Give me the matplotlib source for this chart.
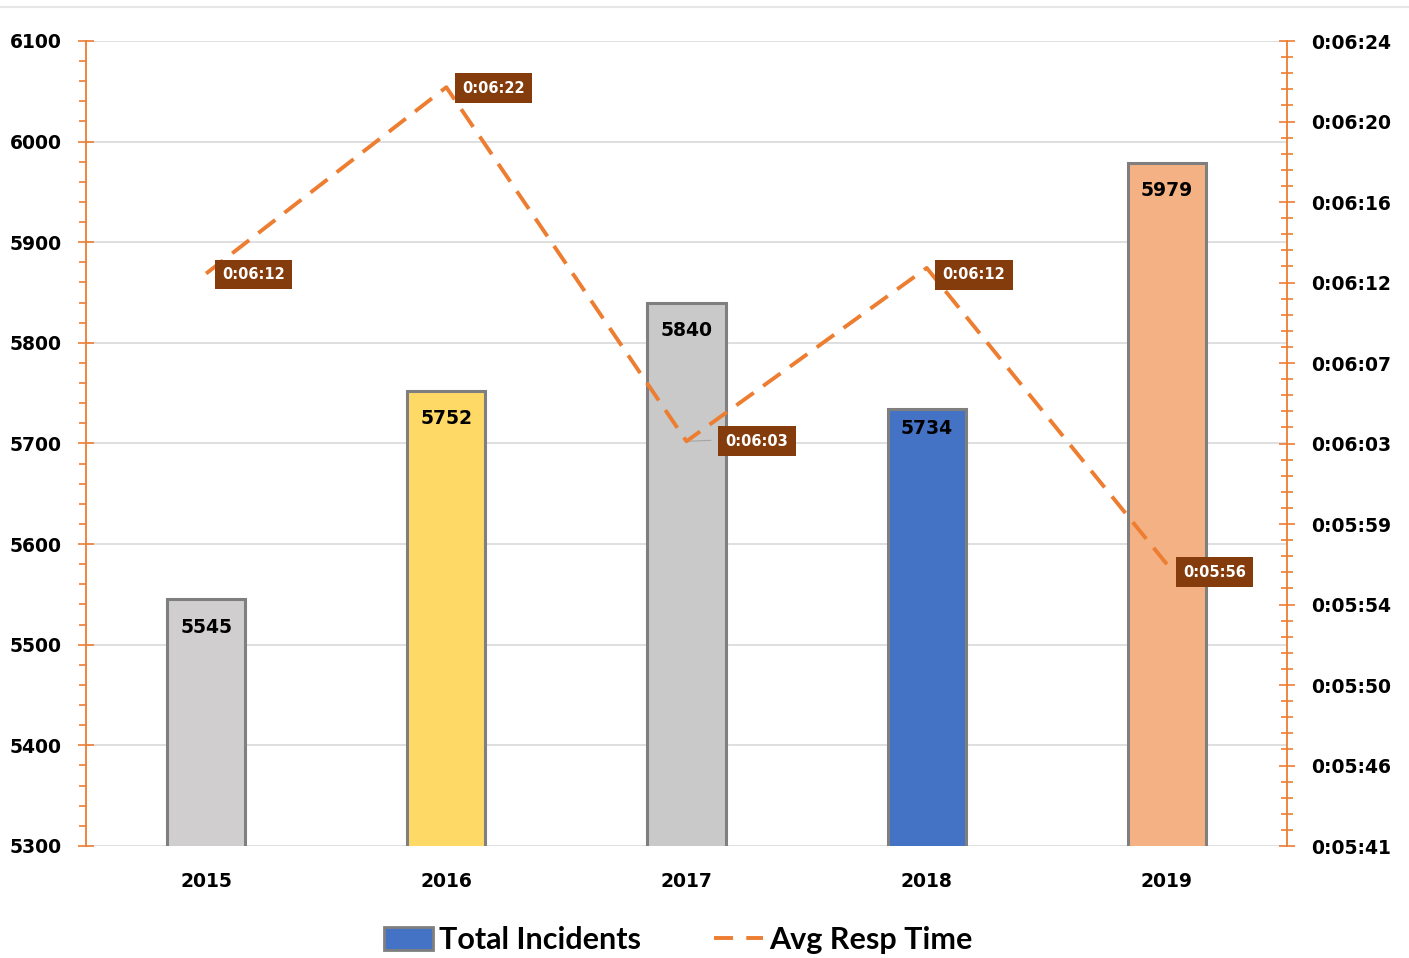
import matplotlib
matplotlib.use("Agg")
import matplotlib.pyplot as plt
from matplotlib.ticker import MultipleLocator, FuncFormatter, FixedLocator
from matplotlib.patches import Patch
from matplotlib.lines import Line2D
import numpy as np

years = ["2015", "2016", "2017", "2018", "2019"]
incidents = [5545, 5752, 5840, 5734, 5979]
bar_colors = ["#d0cece", "#ffd966", "#c9c9c9", "#4472c4", "#f4b183"]
resp_secs = [372.0, 382.0, 363.0, 372.3, 356.4]
resp_labels = ["0:06:12", "0:06:22", "0:06:03", "0:06:12", "0:05:56"]

W, H = 1409, 958
fig = plt.figure(figsize=(W / 100, H / 100), dpi=100)
ax = fig.add_axes([86 / W, 1 - 846 / H, (1287 - 86) / W, (846 - 41) / H])
ax2 = ax.twinx()

orange = "#ed7d31"
x = np.arange(len(years))

ax.bar(x, incidents, width=0.325, color=bar_colors, edgecolor="#7f7f7f",
       linewidth=2.2, zorder=3)
bar_label_dy = [-20, -20, -20, -14, -20]
for xi, v, dy in zip(x, incidents, bar_label_dy):
    ax.annotate(str(v), (xi, v), xytext=(0, dy), textcoords="offset points",
                ha="center", va="center", fontsize=13.5, fontweight="bold",
                color="black", zorder=4)

ax.set_xlim(-0.5, len(years) - 0.5)
ax.set_ylim(5300, 6100)
ax.yaxis.set_major_locator(MultipleLocator(100))
ax.yaxis.set_minor_locator(MultipleLocator(20))
ax.grid(axis="y", which="major", color="#d9d9d9", linewidth=1.2, zorder=0)
ax.set_axisbelow(True)
ax.set_xticks(x)
ax.set_xticklabels(years, fontsize=13.5, fontweight="bold")
ax.tick_params(axis="x", length=0, pad=19)
ax.tick_params(axis="y", which="major", direction="inout", length=11,
               color=orange, width=1.2, labelsize=13.5, pad=12)
ax.tick_params(axis="y", which="minor", direction="out", length=5,
               color=orange, width=1.2)
for lbl in ax.get_yticklabels():
    lbl.set_fontweight("bold")
for s in ["top", "right", "bottom"]:
    ax.spines[s].set_visible(False)
ax.spines["left"].set_color(orange)
ax.spines["left"].set_linewidth(1.3)

# secondary axis
ymin2, ymax2 = 341.28, 384.48
ax2.set_ylim(ymin2, ymax2)
ax2.yaxis.set_major_locator(FixedLocator(np.arange(ymin2, ymax2 + 0.01, 4.32)))
ax2.yaxis.set_minor_locator(FixedLocator(np.arange(ymin2, ymax2 + 0.01, 0.864)))

def fmt(v, pos):
    s = int(round(v))
    return "%d:%02d:%02d" % (s // 3600, (s % 3600) // 60, s % 60)

ax2.yaxis.set_major_formatter(FuncFormatter(fmt))
ax2.tick_params(axis="y", which="major", direction="inout", length=11,
                color=orange, width=1.2, labelsize=13.5, pad=12)
ax2.tick_params(axis="y", which="minor", direction="inout", length=8,
                color=orange, width=1.2)
for lbl in ax2.get_yticklabels():
    lbl.set_fontweight("bold")
for s in ["top", "left", "bottom"]:
    ax2.spines[s].set_visible(False)
ax2.spines["right"].set_color(orange)
ax2.spines["right"].set_linewidth(1.3)

ax2.plot(x, resp_secs, color=orange, linewidth=2.8, dashes=(5.5, 3),
         zorder=5)

offsets = [(11, -1), (11, -1), (34, 0), (11, -7), (11, -8)]
for xi, v, lab, off in zip(x, resp_secs, resp_labels, offsets):
    if off[0] > 20:
        ax2.annotate("", (xi, v), xytext=(off[0] * 0.8, off[1] + 1),
                     textcoords="offset pixels",
                     arrowprops=dict(arrowstyle="-", color="#a5a5a5", lw=0.8))
    ax2.annotate(lab, (xi, v), xytext=(off[0] + 5, off[1]),
                 textcoords="offset pixels", ha="left", va="center",
                 fontsize=10.5, fontweight="bold", color="white", zorder=6,
                 bbox=dict(boxstyle="square,pad=0.5", fc="#843c0c",
                           ec="none"))

# legend
handles = [Patch(facecolor="#4472c4", edgecolor="#7f7f7f", linewidth=2),
           Line2D([0], [0], color=orange, linewidth=2.8, dashes=(4.9, 3.4))]
leg = fig.legend(handles, ["Total Incidents", "Avg Resp Time"],
                 loc="center", bbox_to_anchor=(678 / W, 1 - 940 / H), ncol=2,
                 frameon=False, handlelength=1.6, handleheight=0.8,
                 handletextpad=0.2, columnspacing=2.4,
                 prop=dict(family="Lato", weight="bold", size=22))

fig.add_artist(Line2D([0, 1], [1 - 7 / H, 1 - 7 / H], color="#e6e6e6",
                      linewidth=1.5, transform=fig.transFigure))

fig.savefig("out.png", dpi=100, facecolor="white")
